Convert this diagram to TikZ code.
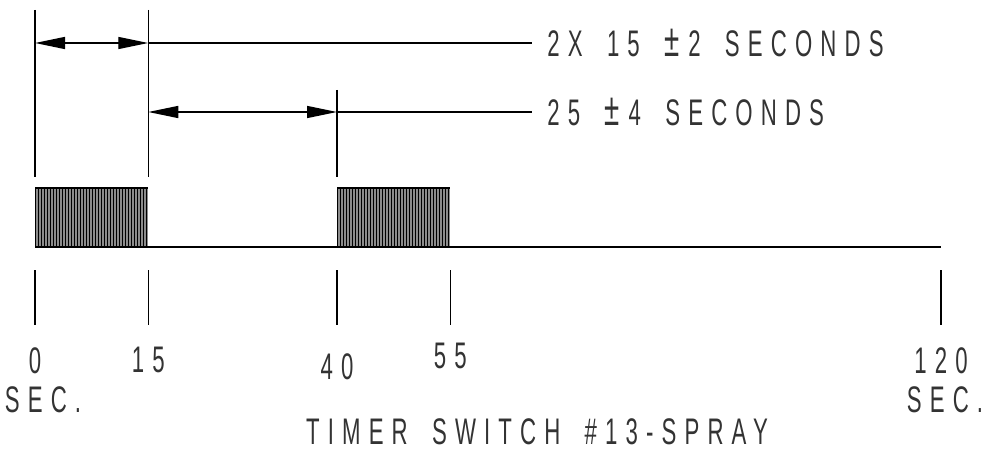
\documentclass[tikz,border=0pt]{standalone}
\usepackage{fontspec}
\setmainfont{Liberation Sans}
\newfontfamily\cadfont[FakeStretch=0.6,LetterSpace=22,WordSpace=1.7]{Liberation Sans}
\newcommand{\bigpm}{{\fontsize{23}{20}\selectfont ±}\hspace{4.5pt}}
\usetikzlibrary{arrows.meta,positioning}

\begin{document}
\begin{tikzpicture}[x=0.5pt,y=-0.5pt,
  cad/.style={font=\cadfont\fontsize{18.5}{20}\selectfont, text=black!80, inner sep=0pt},
  dim/.style={line width=0.7pt},
  dimtips/.style={{Triangle[length=15pt,width=6pt]}-{Triangle[length=15pt,width=6pt]}}]

  \useasboundingbox (0,0) rectangle (1004,470);

  \def\s{7.55};   % px per second
  \def\xo{35};    % x of time 0

  %time ticks on the base line
  \foreach \t/\name in {0/t0,15/t15,40/t40,55/t55,120/t120}{
     \coordinate (\name) at (\xo+\t*\s, 247);
     \draw[dim] (\name) ++(0,23) -- ++(0,55) coordinate (b\name);
  }

  %spray blocks
  \foreach \t in {0,40}{
     \fill[black!45] (\xo+\t*\s,188) rectangle (\xo+\t*\s+15*\s,247);
     \foreach \k in {0,...,37}{
        \draw[line width=0.3pt] (\xo+\t*\s+\k*3,188) -- ++(0,59);
     }
     \draw[dim] (\xo+\t*\s,188) -- ++(15*\s,0);
  }
  \draw[dim] (t0) -- (t120);

  %extension lines
  \draw[dim] (t0 |- 0,10) -- (t0 |- 0,177);
  \draw[dim] (t15 |- 0,10) -- (t15 |- 0,177);
  \draw[dim] (t40 |- 0,90) -- (t40 |- 0,177);

  %dimensions
  \node[cad, anchor=west] (lbla) at (532,43) {\hspace{7.5pt}2X 15 \bigpm2 SECONDS};
  \node[cad, anchor=west] (lblb) at (532,112) {\hspace{7.5pt}25 \bigpm4 SECONDS};
  \draw[dim, dimtips] (t0 |- lbla.west) -- (t15 |- lbla.west);
  \draw[dim] (t15 |- lbla.west) -- (lbla.west);
  \draw[dim, dimtips] (t15 |- lblb.west) -- (t40 |- lblb.west);
  \draw[dim] (t40 |- lblb.west) -- (lblb.west);

  %time labels
  \foreach \name/\txt/\dy in {t0/0/11, t15/15/11, t40/40/14, t55/55/9, t120/120/11}{
     \node[cad, below=\dy pt of b\name] (n\name) {\txt};
  }
  \node[cad, below=6pt of nt0, xshift=4pt] (sec0) {SEC.};
  \node[cad, below=6pt of nt120, xshift=2pt] (sec120) {SEC.};

  \node[cad] (title) at (537,432) {TIMER SWITCH \#13-SPRAY};

\end{tikzpicture}
\end{document}
